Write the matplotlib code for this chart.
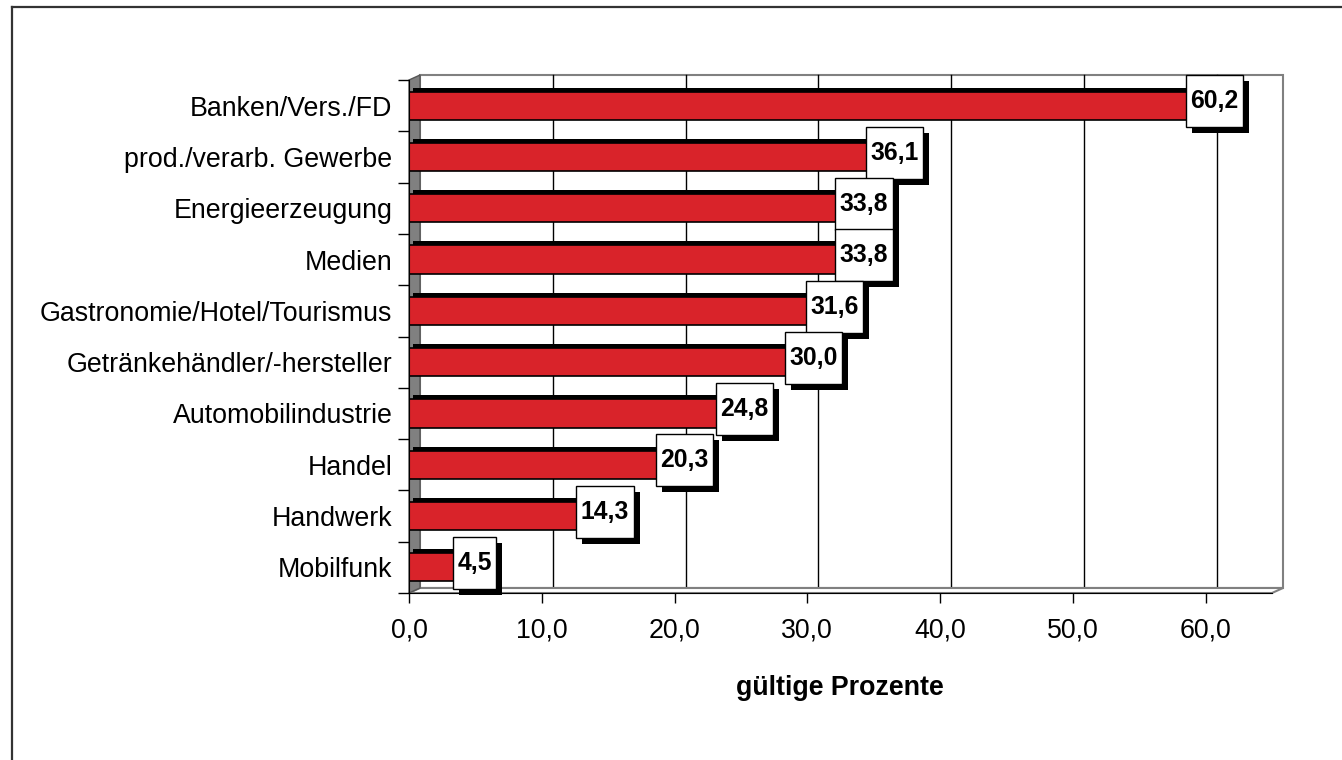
import matplotlib
matplotlib.use("Agg")
import matplotlib.pyplot as plt
from matplotlib.patches import Polygon, Rectangle
from matplotlib.lines import Line2D
import numpy as np

plt.rcParams['font.family'] = ['Liberation Sans', 'DejaVu Sans']

categories = ["Banken/Vers./FD", "prod./verarb. Gewerbe", "Energieerzeugung", "Medien",
              "Gastronomie/Hotel/Tourismus", "Getränkehändler/-hersteller",
              "Automobilindustrie", "Handel", "Handwerk", "Mobilfunk"]
values = [60.2, 36.1, 33.8, 33.8, 31.6, 30.0, 24.8, 20.3, 14.3, 4.5]
xticks = [0, 10, 20, 30, 40, 50, 60]
xlabel = "gültige Prozente"

W, H = 1342, 760
fig = plt.figure(figsize=(W / 100, H / 100), dpi=100)
# front plane of the 3d box, in pixels
x0, x1, ytop, ybot = 409, 1272, 80, 593
ax = fig.add_axes([x0 / W, 1 - ybot / H, (x1 - x0) / W, (ybot - ytop) / H])
xmax = 65
n = len(categories)
ax.set_xlim(0, xmax)
ax.set_ylim(-0.5, n - 0.5)
PX = (x1 - x0) / xmax
PY = (ybot - ytop) / n
DX, DY = 11 / PX, 5 / PY   # depth offset

ypos = np.arange(n)[::-1]
red = "#D9232A"
grey = "#808080"

# back wall
ax.add_patch(Rectangle((DX, -0.5 + DY), xmax, n, facecolor="white", edgecolor=grey,
                       lw=1.5, clip_on=False, zorder=0))
for v in xticks[1:]:
    ax.plot([v + DX, v + DX], [-0.5 + DY, n - 0.5 + DY], color="black", lw=1, zorder=1, clip_on=False)
    ax.plot([v, v + DX], [-0.5, -0.5 + DY], color=grey, lw=1, zorder=1, clip_on=False)
# floor
ax.add_patch(Polygon([(0, -0.5), (xmax, -0.5), (xmax + DX, -0.5 + DY), (DX, -0.5 + DY)],
                     closed=True, facecolor="white", edgecolor=grey, lw=1.5, clip_on=False, zorder=1))
# left wall
ax.add_patch(Polygon([(0, -0.5), (0, n - 0.5), (DX, n - 0.5 + DY), (DX, -0.5 + DY)],
                     closed=True, facecolor=grey, edgecolor="#555555", lw=1, clip_on=False, zorder=1))

# bars with dark top face
bh = 0.55
ax.barh(ypos + 4 / PY, values, left=4 / PX, height=bh, color="black", zorder=2)
ax.barh(ypos, values, height=bh, color=red, edgecolor="black", lw=1.2, zorder=3)

ax.set_yticks(ypos)
ax.set_yticklabels(categories, fontsize=19.3)
ax.set_yticks(np.arange(n + 1) - 0.5, minor=True)
ax.tick_params(axis="y", which="major", length=0, pad=12)
ax.tick_params(axis="y", which="minor", length=8, width=1, color="black")
ax.set_xticks(xticks)
ax.set_xticklabels(["%.1f" % v for v in xticks])
ax.set_xticklabels([("%.1f" % v).replace(".", ",") for v in xticks], fontsize=19.3)
ax.tick_params(axis="x", length=7.5, width=1, pad=10)
for s in ["top", "right"]:
    ax.spines[s].set_visible(False)
ax.spines["left"].set_zorder(4)
ax.spines["bottom"].set_zorder(4)
ax.patch.set_visible(False)

fig.text(840 / W, 1 - 688 / H, xlabel, ha="center", va="center", fontsize=19.3, fontweight="bold")

# value labels with shadowed boxes
fig.canvas.draw()
r = fig.canvas.get_renderer()
for y, v in zip(ypos, values):
    cx, cy = v + 6 / PX, y + 4.3 / PY
    t = ax.text(cx, cy, ("%.1f" % v).replace(".", ","), ha="center", va="center",
                fontsize=17.8, fontweight="bold", zorder=7, clip_on=False)
    bw = (t.get_window_extent(r).width + 9) / PX
    bhh = 52 / PY
    ax.add_patch(Rectangle((cx - bw / 2 + 6 / PX, cy - bhh / 2 - 6 / PY), bw, bhh,
                           facecolor="black", edgecolor="none", zorder=5, clip_on=False))
    ax.add_patch(Rectangle((cx - bw / 2, cy - bhh / 2), bw, bhh, facecolor="white",
                           edgecolor="black", lw=1, zorder=6, clip_on=False))

# outer frame
fig.add_artist(Line2D([12 / W, 12 / W], [0, 1 - 7 / H], color="#333333", lw=1.6))
fig.add_artist(Line2D([12 / W, 1], [1 - 7 / H, 1 - 7 / H], color="#333333", lw=1.6))

fig.savefig("out.png", dpi=100)
